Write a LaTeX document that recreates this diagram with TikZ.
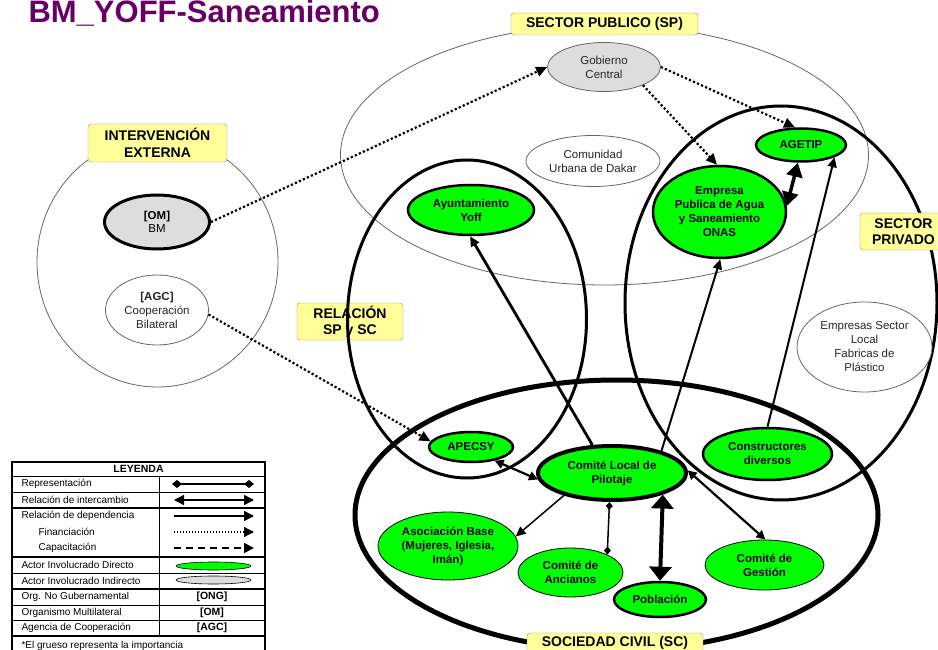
\documentclass[tikz,border=0pt]{standalone}
\usepackage{fontspec}
\setmainfont{Liberation Sans}
\usetikzlibrary{arrows.meta,shapes.geometric}

\definecolor{actgreen}{RGB}{0,255,0}
\definecolor{tagyellow}{RGB}{255,255,153}
\definecolor{indgray}{RGB}{221,221,221}
\definecolor{titlepurple}{RGB}{102,0,102}

\begin{document}
\begin{tikzpicture}[
  x=1pt, y=-1pt,
  font=\fontsize{11.5}{13.5}\selectfont,
  zone/.style={ellipse,draw=black!60,line width=0.8pt,inner sep=0pt},
  ring/.style={ellipse,draw,line width=3pt,inner sep=0pt},
  tagbox/.style={draw=black!45,fill=tagyellow,rounded corners=3pt,inner sep=0pt,align=center,font=\bfseries\fontsize{14}{16.5}\selectfont},
  actor/.style={ellipse,draw,fill=actgreen,line width=2.5pt,inner sep=0pt,align=center,font=\bfseries\fontsize{11.5}{14}\selectfont},
  minor/.style={actor,line width=0.8pt},
  other/.style={ellipse,draw=black!60,fill=white,line width=0.8pt,inner sep=0pt,align=center,text=black!85,font=\fontsize{11.5}{14}\selectfont},
  fin/.style={line width=2.2pt,dash pattern=on 2.2pt off 2.2pt,-{Triangle[length=11pt,width=10pt]}},
  dep/.style={line width=2pt,-{Triangle[length=10pt,width=9pt]}},
  inter/.style={line width=2.2pt,{Triangle[length=9pt,width=9pt]}-{Triangle[length=9pt,width=9pt]}},
  swap/.style={line width=3.5pt,{Triangle[length=14pt,width=16pt]}-{Triangle[length=14pt,width=16pt]}},
  rep/.style={line width=1.5pt,{Diamond[length=8pt,width=7pt]}-{Diamond[length=8pt,width=7pt]}},
  keytext/.style={anchor=west,font=\fontsize{10}{12}\selectfont},
]
  \useasboundingbox (0,0) rectangle (938,650);

  % title
  \node[anchor=base west,text=titlepurple,font=\bfseries\fontsize{31}{31}\selectfont] (title) at (25,23) {BM\_YOFF-Saneamiento};

  % tag that sits under its ring
  \node[tagbox,minimum width=106pt,minimum height=37pt] (relTag) at (350,321.5) {RELACIÓN\\SP y SC};

  % sectors
  \node[zone,minimum width=528pt,minimum height=260pt] (sp) at (604.5,155) {};
  \node[zone,minimum width=241pt,minimum height=250pt] (ext) at (157.5,262) {};
  \node[ring,minimum width=239pt,minimum height=318pt] (rel) at (467,319) {};
  \node[ring,minimum width=312pt,minimum height=394pt] (priv) at (781,303) {};
  \node[ring,line width=5pt,minimum width=523pt,minimum height=270pt] (sc) at (616.5,515) {};

  \node[tagbox,minimum width=187pt,minimum height=22pt] (spTag) at (604.5,24) {SECTOR PUBLICO (SP)};
  \node[tagbox,minimum width=139pt,minimum height=38pt] (extTag) at (157.5,143) {INTERVENCIÓN\\EXTERNA};
  \node[tagbox,minimum width=87pt,minimum height=37pt] (privTag) at (903.5,231.5) {SECTOR\\PRIVADO};
  \node[tagbox,minimum width=176pt,minimum height=20pt] (scTag) at (615,643) {SOCIEDAD CIVIL (SC)};

  % external intervention
  \node[ellipse,draw,line width=3pt,fill=indgray,inner sep=0pt,align=center,minimum width=105pt,minimum height=54pt] (bm) at (157,222) {\textbf{[OM]}\\BM};
  \node[other,minimum width=103pt,minimum height=70pt] (agc) at (157,310) {\textbf{[AGC]}\\Cooperación\\Bilateral};

  % public sector
  \node[other,fill=indgray,minimum width=113pt,minimum height=49pt] (gob) at (604,67) {Gobierno\\Central};
  \node[other,minimum width=134pt,minimum height=51pt] (cud) at (593,161) {Comunidad\\Urbana de Dakar};
  \node[actor,minimum width=126pt,minimum height=50pt] (ayu) at (471,210) {Ayuntamiento\\Yoff};
  \node[actor,minimum width=133pt,minimum height=92pt] (onas) at (719.5,212) {Empresa\\Publica de Agua\\y Saneamiento\\ONAS};
  \node[actor,minimum width=90pt,minimum height=33pt] (agetip) at (801,145) {AGETIP};

  % private sector
  \node[other,minimum width=135pt,minimum height=90pt] (esl) at (864.5,347) {Empresas Sector\\Local\\Fabricas de\\Plástico};
  \node[actor,minimum width=129pt,minimum height=52pt] (con) at (767.5,454) {Constructores\\diversos};

  % civil society
  \node[actor,minimum width=84pt,minimum height=30pt] (apecsy) at (471,447) {APECSY};
  \node[actor,line width=4pt,minimum width=148pt,minimum height=54pt] (clp) at (612,473) {Comité Local de\\Pilotaje};
  \node[minor,minimum width=140pt,minimum height=68pt] (aso) at (448,546) {Asociación Base\\(Mujeres, Iglesia,\\Imán)};
  \node[minor,minimum width=105pt,minimum height=49pt] (anc) at (570.5,572.5) {Comité de\\Ancianos};
  \node[actor,minimum width=92pt,minimum height=35pt] (pob) at (660,599.5) {Población};
  \node[minor,minimum width=119pt,minimum height=50pt] (ges) at (764.5,565) {Comité de\\Gestión};

  % financing
  \draw[fin] (bm.0) -- (gob.180);
  \draw[fin] (agc.-5) -- (apecsy.172);
  \draw[fin] (gob.-25) -- (onas.93);
  \draw[fin] (gob.0) -- (agetip.109);

  % dependence and exchange
  \draw[swap] (onas.5) -- (agetip.-100);
  \draw[dep] (con.90) -- (agetip.-20);
  \draw[dep] (clp.24) -- (onas.-89);
  \draw[dep,line width=2.8pt] (clp.125) -- (ayu.-92);
  \draw[inter] (clp.185) -- (apecsy.-30);
  \draw[dep,line width=1.5pt] (clp.205) -- (aso.8);
  \draw[rep] (clp.265) -- (anc.26);
  \draw[swap,line width=4pt,{Triangle[length=14pt,width=22pt]}-{Triangle[length=14pt,width=22pt]}] (clp.-23) -- (pob.90);
  \draw[inter] (clp.2) -- (ges.88);

  % legend
  \draw[line width=1.3pt] (12,462) rectangle (265,662);
  \draw[line width=0.7pt] (12,476) -- (265,476) (12,492) -- (265,492) (12,573) -- (265,573)
    (12,605) -- (265,605) (12,620) -- (265,620) (159,476) -- (159,636);
  \draw[line width=1.4pt] (12,508) -- (265,508) (12,557) -- (265,557) (12,589) -- (265,589) (12,636) -- (265,636);

  \node[font=\bfseries\fontsize{10.5}{12}\selectfont] (key) at (138.5,469) {LEYENDA};
  \node[keytext] (kRep) at (18,484) {Representación};
  \node[keytext] (kInt) at (18,500) {Relación de intercambio};
  \node[keytext] (kDep) at (18,516) {Relación de dependencia};
  \node[keytext] (kFin) at (35,532) {Financiación};
  \node[keytext] (kCap) at (35,548) {Capacitación};
  \node[keytext] (kDir) at (18,565) {Actor Involucrado Directo};
  \node[keytext] (kInd) at (18,580.5) {Actor Involucrado Indirecto};
  \node[keytext] (kOng) at (18,597) {Org. No Gubernamental};
  \node[keytext] (kOm) at (18,612.5) {Organismo Multilateral};
  \node[keytext] (kAgc) at (18,627.5) {Agencia de Cooperación};
  \node[keytext,anchor=base west] (kNote) at (18,648) {*El grueso representa la importancia};

  \coordinate (repA) at (172,484); \coordinate (repB) at (254,484);
  \coordinate (intA) at (174,500); \coordinate (intB) at (254,500);
  \coordinate (depA) at (174,516); \coordinate (depB) at (254,516);
  \coordinate (finA) at (174,532); \coordinate (finB) at (254,532);
  \coordinate (capA) at (174,548); \coordinate (capB) at (254,548);
  \draw[line width=1.5pt,{Diamond[length=10pt,width=8pt]}-{Diamond[length=10pt,width=8pt]}] (repA) -- (repB);
  \draw[line width=1.5pt,{Triangle[length=10pt,width=10pt]}-{Triangle[length=10pt,width=10pt]}] (intA) -- (intB);
  \draw[line width=1.5pt,-{Triangle[length=10pt,width=10pt]}] (depA) -- (depB);
  \draw[line width=1.3pt,dash pattern=on 1.3pt off 1.7pt,-{Triangle[length=10pt,width=10pt]}] (finA) -- (finB);
  \draw[line width=1.8pt,dash pattern=on 7pt off 5pt,-{Triangle[length=10pt,width=10pt]}] (capA) -- (capB);
  \node[ellipse,draw,fill=actgreen,line width=0.6pt,inner sep=0pt,minimum width=75pt,minimum height=8pt] (kDirSym) at (213.5,566) {};
  \node[ellipse,draw,fill=indgray,line width=0.6pt,inner sep=0pt,minimum width=75pt,minimum height=8pt] (kIndSym) at (213.5,580) {};
  \node[font=\bfseries\fontsize{10.5}{12}\selectfont] (kOngSym) at (212,597) {[ONG]};
  \node[font=\bfseries\fontsize{10.5}{12}\selectfont] (kOmSym) at (212,612.5) {[OM]};
  \node[font=\bfseries\fontsize{10.5}{12}\selectfont] (kAgcSym) at (212,627.5) {[AGC]};
\end{tikzpicture}
\end{document}
